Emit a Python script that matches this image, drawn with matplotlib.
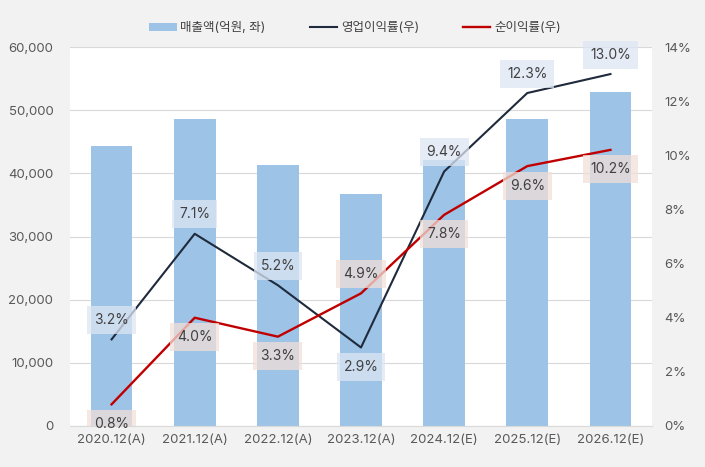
import matplotlib
matplotlib.use("Agg")
import matplotlib.pyplot as plt
from matplotlib.patches import Patch
from matplotlib.lines import Line2D
from matplotlib.ticker import FuncFormatter
from matplotlib.transforms import Bbox, TransformedBbox

plt.rcParams['font.family'] = ['Inter', 'Noto Sans CJK KR', 'DejaVu Sans']

categories = ["2020.12(A)", "2021.12(A)", "2022.12(A)", "2023.12(A)",
              "2024.12(E)", "2025.12(E)", "2026.12(E)"]
sales = [44300, 48600, 41300, 36700, 42100, 48600, 52900]
op_margin = [3.2, 7.1, 5.2, 2.9, 9.4, 12.3, 13.0]
net_margin = [0.8, 4.0, 3.3, 4.9, 7.8, 9.6, 10.2]
op_label_pos = ["above", "above", "above", "below", "above", "above", "above"]
net_label_pos = ["below", "below", "below", "above", "below", "below", "below"]

legend_labels = ["매출액(억원, 좌)", "영업이익률(우)", "순이익률(우)"]

bg = "#f2f2f2"
bar_color = "#9dc3e6"
op_color = "#1f2a3c"
net_color = "#c00000"
text_color = "#404040"

fig = plt.figure(figsize=(7.05, 4.67), dpi=100, facecolor=bg)
ax = fig.add_axes([70/705, 1-426/467, (652-70)/705, (426-47)/467])
ax.set_facecolor("white")
x = list(range(len(categories)))
ax.bar(x, sales, width=0.5, color=bar_color, zorder=2)
ax.set_xlim(-0.5, len(categories)-0.5)
ax.set_ylim(0, 60000)
ax.set_yticks(range(0, 60001, 10000))
ax.yaxis.set_major_formatter(FuncFormatter(lambda v, p: f"{int(v):,}"))
ax.grid(axis='y', color="#d9d9d9", linewidth=0.8, zorder=0)
ax.set_axisbelow(True)
ax.set_xticks(x)
ax.set_xticklabels(categories)
for s in ["top", "right", "left"]:
    ax.spines[s].set_visible(False)
ax.spines["bottom"].set_color("#d9d9d9")
ax.tick_params(axis='both', length=0, colors="#595959", labelsize=9.5)
ax.tick_params(axis='y', pad=12)
ax.tick_params(axis='x', pad=6)

ax2 = ax.twinx()
ax2.set_ylim(0, 14)
ax2.set_yticks(range(0, 15, 2))
ax2.yaxis.set_major_formatter(FuncFormatter(lambda v, p: f"{int(v)}%"))
for s in ["top", "right", "left", "bottom"]:
    ax2.spines[s].set_visible(False)
ax2.tick_params(axis='y', length=0, colors="#595959", labelsize=9.5, pad=9)

ax2.plot(x, op_margin, color=op_color, linewidth=1.5, zorder=3)
ax2.plot(x, net_margin, color=net_color, linewidth=1.7, zorder=3)

clipbox = TransformedBbox(Bbox([[-0.1, 0.0], [1.1, 1.2]]), ax2.transAxes)

def label(vals, positions, fc):
    for xi, v, pos in zip(x, vals, positions):
        dy = 14 if pos == "above" else -14
        t = ax2.annotate(f"{v:.1f}%", (xi, v), xytext=(0, dy), textcoords="offset points",
                         ha="center", va="center", fontsize=10, color=text_color, zorder=5,
                         bbox=dict(boxstyle="square,pad=0.5", fc=fc, ec="none", alpha=0.75),
                         annotation_clip=False)
        t.set_clip_on(False)
        bp = t.get_bbox_patch()
        bp.set_clip_on(True)
        bp.set_clip_box(clipbox)

label(op_margin, op_label_pos, "#dde6f4")
label(net_margin, net_label_pos, "#f2dfd7")

handles = [Patch(facecolor=bar_color, edgecolor="none"),
           Line2D([0], [0], color=op_color, linewidth=1.5),
           Line2D([0], [0], color=net_color, linewidth=1.7)]
fig.legend(handles, legend_labels, loc="center", bbox_to_anchor=(355/705, 1-28/467),
           ncol=3, frameon=False, fontsize=9, labelcolor="#404040",
           handlelength=2.2, handleheight=0.6, columnspacing=3.5, handletextpad=0.3)

fig.savefig("out.png", dpi=100, facecolor=bg)
